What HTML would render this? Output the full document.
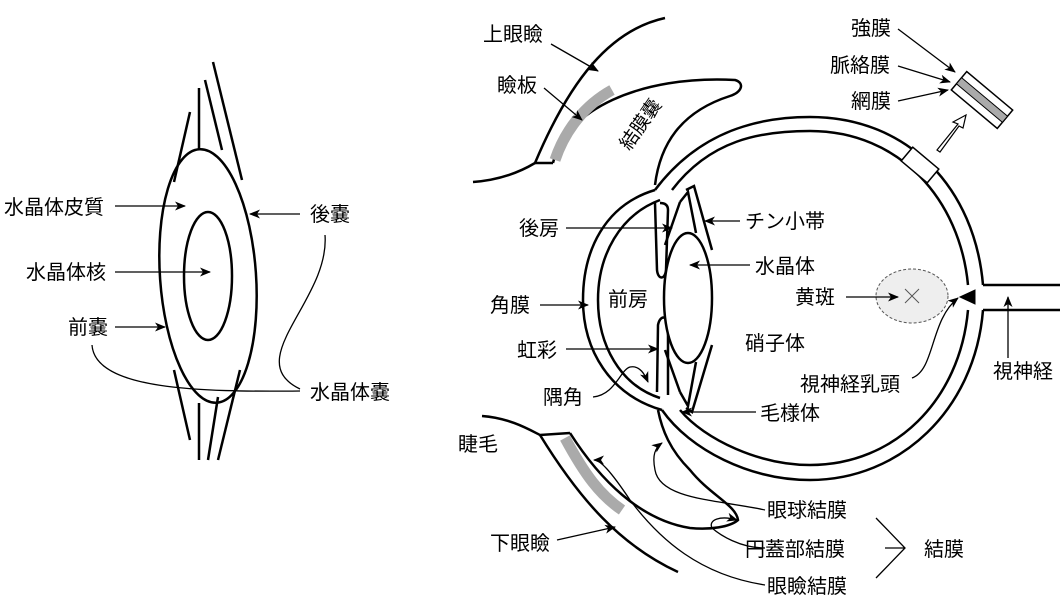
<!DOCTYPE html>
<html><head><meta charset="utf-8"><style>
html,body{margin:0;padding:0;background:#fff;}
svg{display:block;}
text{font-family:"Liberation Sans","Noto Sans CJK JP",sans-serif;font-size:20px;fill:#000;}
</style></head><body>
<svg width="1060" height="609" viewBox="0 0 1060 609" xmlns="http://www.w3.org/2000/svg">
<defs>
<marker id="a" markerWidth="11" markerHeight="9" refX="10" refY="4.5" orient="auto" markerUnits="userSpaceOnUse">
<path d="M0,0 L11,4.5 L0,9 L3,4.5 Z" fill="#000"/></marker>
</defs>
<g fill="none" stroke="#000" stroke-width="2.5">
<ellipse cx="208" cy="276" rx="48" ry="127" transform="rotate(-4 208 276)" fill="#fff"/>
<ellipse cx="208" cy="276" rx="24" ry="64"/>
<line x1="190" y1="112" x2="174" y2="182"/>
<line x1="199" y1="88" x2="199" y2="149"/>
<line x1="205" y1="80" x2="222" y2="150"/>
<line x1="213" y1="62" x2="242" y2="180"/>
<line x1="174" y1="370" x2="190" y2="440"/>
<line x1="199" y1="403" x2="199" y2="460"/>
<line x1="218" y1="397" x2="208" y2="460"/>
<line x1="240" y1="370" x2="218" y2="460"/>
</g>
<g fill="none" stroke="#000" stroke-width="1.3">
<line x1="115" y1="206" x2="185" y2="206" marker-end="url(#a)"/>
<line x1="300" y1="214" x2="250" y2="214" marker-end="url(#a)"/>
<line x1="115" y1="272" x2="210" y2="272" marker-end="url(#a)"/>
<line x1="115" y1="327" x2="165" y2="327" marker-end="url(#a)"/>
<path d="M92,345 C95,390 200,392 300,391"/>
<path d="M325,235 C330,300 240,360 300,389"/>
</g>
<text x="4" y="214">水晶体皮質</text>
<text x="310" y="221">後嚢</text>
<text x="26" y="279">水晶体核</text>
<text x="68" y="334">前嚢</text>
<text x="310" y="399">水晶体嚢</text>

<g fill="none" stroke="#000" stroke-width="2.5">
<path d="M473,182 C500,180 520,172 535,163 C570,80 610,30 665,18"/>
<path d="M553,163 L535,163"/>
<path d="M553,163 C565,110 640,75 735,80 C745,83 742,92 730,96 C680,112 660,145 655,185"/>
<path d="M655,190 C700,130 760,117 810,117 C910,117 975,190 983,285 M983,310 C975,410 900,480 810,480 C750,480 690,450 662,410"/>
<path d="M672,190 C710,140 760,131 810,131 C900,131 960,200 968,285 M968,310 C960,400 895,465 810,465 C760,465 705,440 680,410"/>
<line x1="983" y1="285" x2="1060" y2="285"/>
<line x1="983" y1="310" x2="1060" y2="310"/>
<path d="M655,190 C605,205 583,250 583,300 C583,350 610,395 662,410"/>
<path d="M660,200 C620,215 598,255 598,300 C598,345 620,385 660,398"/>
<path d="M655,203 L657,270 C658,280 665,280 666,270 L668,210 C668,205 665,203 660,203"/>
<path d="M657,392 L658,325 C660,315 667,315 668,325 L668,395"/>
<ellipse cx="688" cy="298" rx="24" ry="65" fill="#fff"/>
<path d="M680,202 L688,192 L696,233"/>
<path d="M686,190 L694,186 L712,250"/>
<path d="M665,245 L680,202"/>
<path d="M680,392 L688,406 L696,362"/>
<path d="M686,408 L692,412 L712,345"/>
<path d="M665,350 L680,392"/>
<path d="M482,416 C510,418 530,430 540,435 L570,433"/>
<path d="M540,435 C580,500 620,545 678,572"/>
<path d="M570,433 C600,480 640,520 690,528 C710,530 730,527 738,520 C736,505 710,495 690,470 C670,450 662,430 658,410"/>
<path d="M960,297 L975,290 L975,304 Z" fill="#000" stroke-width="1"/>
</g>
<path d="M555,160 C565,130 585,105 612,90" stroke="#aaa" stroke-width="11" fill="none"/>
<path d="M565,438 C585,475 600,495 622,510" stroke="#aaa" stroke-width="11" fill="none"/>
<ellipse cx="912" cy="296" rx="36" ry="27" fill="#eee" stroke="#555" stroke-width="1" stroke-dasharray="3,2"/>
<path d="M905,289 L919,303 M919,289 L905,303" stroke="#555" stroke-width="1"/>
<rect x="-9" y="-17" width="18" height="34" transform="translate(920,165) rotate(-50)" fill="#fff" stroke="#000" stroke-width="1.5"/>
<g transform="translate(982,100) rotate(-50)">
<rect x="-12" y="-30" width="24" height="60" fill="#fff" stroke="#000" stroke-width="1.5"/>
<rect x="-4" y="-30" width="8" height="60" fill="#aaa" stroke="#000" stroke-width="1"/>
</g>
<path d="M937,150 L958,124 L953,122 L966,115 L963,128 L959,126 L940,152 Z" fill="#fff" stroke="#000" stroke-width="1.2"/>
<g fill="none" stroke="#000" stroke-width="1.3">
<line x1="551" y1="44" x2="598" y2="71" marker-end="url(#a)"/>
<line x1="544" y1="88" x2="582" y2="120" marker-end="url(#a)"/>
<line x1="898" y1="29" x2="955" y2="72" marker-end="url(#a)"/>
<line x1="898" y1="66" x2="950" y2="82" marker-end="url(#a)"/>
<line x1="898" y1="101" x2="948" y2="90" marker-end="url(#a)"/>
<line x1="566" y1="228" x2="672" y2="228" marker-end="url(#a)"/>
<line x1="740" y1="221" x2="705" y2="221" marker-end="url(#a)"/>
<line x1="750" y1="265" x2="690" y2="265" marker-end="url(#a)"/>
<line x1="540" y1="305" x2="588" y2="305" marker-end="url(#a)"/>
<line x1="846" y1="297" x2="898" y2="297" marker-end="url(#a)"/>
<line x1="566" y1="349" x2="658" y2="349" marker-end="url(#a)"/>
<path d="M912,378 C935,370 930,320 958,298" marker-end="url(#a)"/>
<line x1="1008" y1="358" x2="1008" y2="297" marker-end="url(#a)"/>
<path d="M593,397 C615,395 620,370 630,367 C640,365 645,375 648,382" marker-end="url(#a)"/>
<line x1="756" y1="412" x2="682" y2="412" marker-end="url(#a)"/>
<line x1="557" y1="540" x2="615" y2="527" marker-end="url(#a)"/>
<path d="M765,510 C720,500 660,500 655,470 C652,455 655,448 662,443" marker-end="url(#a)"/>
<path d="M765,548 C740,548 720,535 712,528 C708,520 720,515 737,520" marker-end="url(#a)"/>
<path d="M765,585 C700,575 660,540 630,500 C610,470 600,460 594,460" marker-end="url(#a)"/>
<path d="M876,518 L905,548 L876,578 M885,548 L905,548"/>
</g>
<text x="483" y="41">上眼瞼</text>
<text x="497" y="92">瞼板</text>
<text transform="translate(640,124) rotate(-55)" text-anchor="middle" y="7" style="font-size:19px">結膜嚢</text>
<text x="851" y="35">強膜</text>
<text x="830" y="72">脈絡膜</text>
<text x="851" y="108">網膜</text>
<text x="519" y="235">後房</text>
<text x="745" y="228">チン小帯</text>
<text x="755" y="273">水晶体</text>
<text x="490" y="312">角膜</text>
<text x="608" y="306">前房</text>
<text x="795" y="304">黄斑</text>
<text x="745" y="350">硝子体</text>
<text x="517" y="357">虹彩</text>
<text x="800" y="391">視神経乳頭</text>
<text x="993" y="378">視神経</text>
<text x="543" y="404">隅角</text>
<text x="760" y="420">毛様体</text>
<text x="458" y="451">睫毛</text>
<text x="490" y="550">下眼瞼</text>
<text x="767" y="517">眼球結膜</text>
<text x="745" y="556">円蓋部結膜</text>
<text x="767" y="593">眼瞼結膜</text>
<text x="924" y="556">結膜</text>
</svg>
</body></html>
